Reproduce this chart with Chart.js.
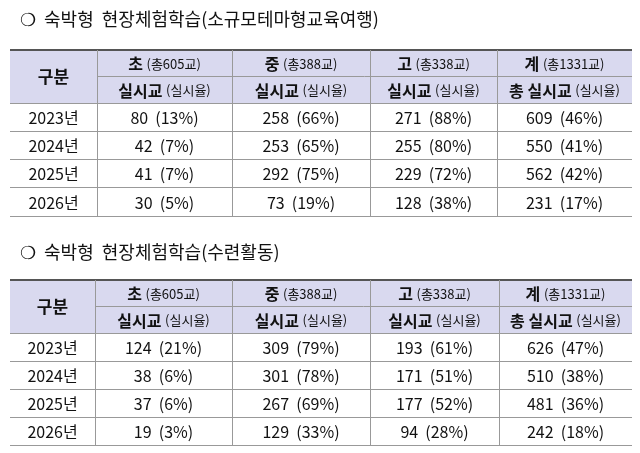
<!DOCTYPE html>
<html><head><meta charset="utf-8">
<script src="https://cdn.jsdelivr.net/npm/chart.js@4"></script>
<style>html,body{margin:0;padding:0;background:#fff}#wrap{width:640px;height:453px}</style>
</head><body><div id="wrap"><canvas id="c"></canvas></div>
<script>
const titles = ["❍  숙박형  현장체험학습(소규모테마형교육여행)", "❍  숙박형  현장체험학습(수련활동)"];
const groups = ["초", "중", "고", "계"];
const groupTotals = ["(총605교)", "(총388교)", "(총338교)", "(총1331교)"];
const subHeads = ["실시교", "실시교", "실시교", "총 실시교"];
const years = ["2023년", "2024년", "2025년", "2026년"];
const counts1 = [[80,258,271,609],[42,253,255,550],[41,292,229,562],[30,73,128,231]];
const rates1 = [[13,66,88,46],[7,65,80,41],[7,75,72,42],[5,19,38,17]];
const counts2 = [[124,309,193,626],[38,301,171,510],[37,267,177,481],[19,129,94,242]];
const rates2 = [[21,79,61,47],[6,78,51,38],[6,69,52,36],[3,33,28,18]];

const F = '"Noto Sans CJK KR","Noto Sans",sans-serif';
function drawTable(ctx, titleY, title, top, cols, rowsY, counts, rates){
  ctx.fillStyle='#111'; ctx.textAlign='left'; ctx.textBaseline='middle';
  ctx.font='18px '+F; ctx.fillText(title, 20, titleY);
  const L=cols[0], R=cols[cols.length-1];
  ctx.fillStyle='#d9d9ef'; ctx.fillRect(L, top, R-L, rowsY[0]-top);
  const mid=(top+rowsY[0])/2|0;
  ctx.fillStyle='#111'; ctx.textAlign='center';
  ctx.font='bold 17px '+F; ctx.fillText('구분',(cols[0]+cols[1])/2, (top+rowsY[0])/2);
  for(let i=0;i<4;i++){
    const cx=(cols[i+1]+cols[i+2])/2;
    ctx.font='bold 16px '+F; const a=groups[i]+' '; const wa=ctx.measureText(a).width;
    ctx.font='13px '+F; const wb=ctx.measureText(groupTotals[i]).width;
    let x=cx-(wa+wb)/2; ctx.textAlign='left';
    ctx.font='bold 16px '+F; ctx.fillText(a,x,(top+mid)/2+1);
    ctx.font='13px '+F; ctx.fillText(groupTotals[i],x+wa,(top+mid)/2+1);
    ctx.font='bold 16px '+F; const c=subHeads[i]+' '; const wc=ctx.measureText(c).width;
    ctx.font='13px '+F; const wd=ctx.measureText('(실시율)').width;
    x=cx-(wc+wd)/2;
    ctx.font='bold 16px '+F; ctx.fillText(c,x,(mid+rowsY[0])/2+1);
    ctx.font='13px '+F; ctx.fillText('(실시율)',x+wc,(mid+rowsY[0])/2+1);
    ctx.textAlign='center';
  }
  ctx.font='16px '+F;
  for(let r=0;r<4;r++){
    const y=(rowsY[r]+rowsY[r+1])/2+1;
    ctx.fillText(years[r],(cols[0]+cols[1])/2,y);
    for(let i=0;i<4;i++) ctx.fillText(counts[r][i]+'  ('+rates[r][i]+'%)',(cols[i+1]+cols[i+2])/2,y);
  }
  ctx.strokeStyle='#555'; ctx.lineWidth=2;
  ctx.beginPath(); ctx.moveTo(L,top); ctx.lineTo(R,top); ctx.stroke();
  ctx.strokeStyle='#999'; ctx.lineWidth=1;
  ctx.beginPath(); ctx.moveTo(cols[1],mid+.5); ctx.lineTo(R,mid+.5); ctx.stroke();
  for(let r=0;r<rowsY.length;r++){ctx.beginPath();ctx.moveTo(L,rowsY[r]+.5);ctx.lineTo(R,rowsY[r]+.5);ctx.stroke();}
  for(let i=1;i<cols.length-1;i++){ctx.beginPath();ctx.moveTo(cols[i]+.5,top);ctx.lineTo(cols[i]+.5,rowsY[4]);ctx.stroke();}
}
const tablePlugin={id:'tables',afterDraw(chart){
  const ctx=chart.ctx; ctx.save();
  drawTable(ctx,19,titles[0],50,[10,97,232,370,497,632],[103,131,159,187,216],counts1,rates1);
  drawTable(ctx,252,titles[1],280,[10,95,232,370,499,632],[333,361,389,417,445],counts2,rates2);
  ctx.restore();
}};
new Chart(document.getElementById('c'),{
  type:'bar',
  data:{labels:years,datasets:[]},
  options:{responsive:true,maintainAspectRatio:false,animation:false,
    plugins:{legend:{display:false},tooltip:{enabled:false}},
    scales:{x:{display:false},y:{display:false}}},
  plugins:[tablePlugin]
});
</script></body></html>
